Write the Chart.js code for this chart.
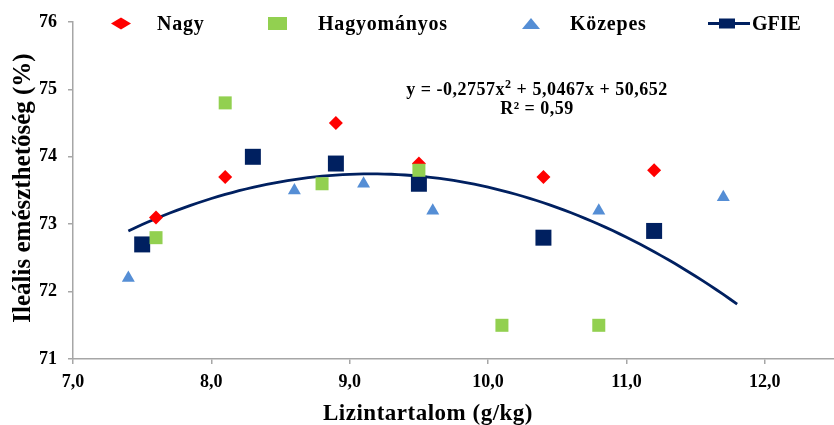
<!DOCTYPE html>
<html>
<head>
<meta charset="utf-8">
<script src="https://cdn.jsdelivr.net/npm/chart.js@4.4.1/dist/chart.umd.min.js"></script>
<style>
  html, body { margin: 0; padding: 0; background: #fff; }
  canvas { display: block; }
</style>
</head>
<body>
<canvas id="chart" width="834" height="425"></canvas>
<script>
// Series names, in legend order
const seriesNames = ['Nagy', 'Hagyományos', 'Közepes', 'GFIE'];

// Lysine content (g/kg) and ileal digestibility (%) per group
const nagyX  = [7.6, 8.1, 8.9, 9.5, 10.4, 11.2];
const nagyY  = [73.1, 73.7, 74.5, 73.9, 73.7, 73.8];
const hagyX  = [7.6, 8.1, 8.8, 9.5, 10.1, 10.8];
const hagyY  = [72.8, 74.8, 73.6, 73.8, 71.5, 71.5];
const kozX   = [7.4, 8.6, 9.1, 9.6, 10.8, 11.7];
const kozY   = [72.2, 73.5, 73.6, 73.2, 73.2, 73.4];
const gfieX  = [7.5, 8.3, 8.9, 9.5, 10.4, 11.2];
const gfieY  = [72.7, 74.0, 73.9, 73.6, 72.8, 72.9];

// Polynomial trend line: y = a*x^2 + b*x + c, and the x span it covers
const trendCoef = [-0.2757, 5.0467, 50.652];
const trendSpan = [7.4, 11.8];
const rSquared = 0.59;

// Axis ticks
const xTicks = [7, 8, 9, 10, 11, 12];
const yTicks = [71, 72, 73, 74, 75, 76];

const SERIF = '"Liberation Serif", "Times New Roman", serif';
const COLORS = { nagy: '#ff0000', hagy: '#92d050', koz: '#558ed5', gfie: '#002060' };

const toPoints = (xs, ys) => xs.map((x, i) => ({ x: x, y: ys[i] }));
const comma = v => String(v).replace('.', ',');

// Trend curve sampled along its span from the stated coefficients
const trendPoints = [];
for (let k = 0; k <= 88; k++) {
  const x = trendSpan[0] + (trendSpan[1] - trendSpan[0]) * k / 88;
  trendPoints.push({ x: x, y: trendCoef[0] * x * x + trendCoef[1] * x + trendCoef[2] });
}

// Legend, regression equation and axis titles
const annotations = {
  id: 'annotations',
  afterDraw(chart) {
    const ctx = chart.ctx;
    ctx.save();
    const cy = 23.5;

    // legend markers
    ctx.fillStyle = COLORS.nagy;
    ctx.beginPath();
    ctx.moveTo(111, cy); ctx.lineTo(121, cy - 6); ctx.lineTo(131, cy); ctx.lineTo(121, cy + 6);
    ctx.closePath(); ctx.fill();

    ctx.fillStyle = COLORS.hagy;
    ctx.fillRect(268, cy - 6.5, 19, 13);

    ctx.fillStyle = COLORS.koz;
    ctx.beginPath();
    ctx.moveTo(522, cy + 5.5); ctx.lineTo(531, cy - 5.5); ctx.lineTo(540, cy + 5.5);
    ctx.closePath(); ctx.fill();

    ctx.strokeStyle = COLORS.gfie;
    ctx.lineWidth = 3;
    ctx.beginPath(); ctx.moveTo(708, cy); ctx.lineTo(750, cy); ctx.stroke();
    ctx.fillStyle = COLORS.gfie;
    ctx.fillRect(719, cy - 5, 16, 10);

    // legend labels
    ctx.fillStyle = '#000';
    ctx.font = 'bold 20px ' + SERIF;
    ctx.textAlign = 'left';
    ctx.textBaseline = 'alphabetic';
    ctx.letterSpacing = '0.8px';
    ctx.fillText(seriesNames[0], 157, 30);
    ctx.fillText(seriesNames[1], 318, 30);
    ctx.fillText(seriesNames[2], 570, 30);
    ctx.letterSpacing = '0px';
    ctx.fillText(seriesNames[3], 752, 30);

    // regression equation
    ctx.letterSpacing = '0.5px';
    const partA = 'y = ' + comma(trendCoef[0]) + 'x';
    const sup = '2';
    const partB = ' + ' + comma(trendCoef[1]) + 'x + ' + comma(trendCoef[2]);
    ctx.font = 'bold 18px ' + SERIF;
    const wA = ctx.measureText(partA).width;
    const wB = ctx.measureText(partB).width;
    ctx.font = 'bold 12px ' + SERIF;
    const wS = ctx.measureText(sup).width;
    const x0 = 537 - (wA + wS + wB) / 2;
    ctx.font = 'bold 18px ' + SERIF;
    ctx.fillText(partA, x0, 95);
    ctx.font = 'bold 12px ' + SERIF;
    ctx.fillText(sup, x0 + wA, 88);
    ctx.font = 'bold 18px ' + SERIF;
    ctx.fillText(partB, x0 + wA + wS, 95);
    ctx.textAlign = 'center';
    ctx.fillText('R\u00b2 = ' + comma(rSquared), 537, 114);

    // axis titles
    ctx.font = 'bold 23px ' + SERIF;
    ctx.fillText('Lizintartalom (g/kg)', 428, 420);
    ctx.letterSpacing = '0px';
    ctx.translate(30, 188);
    ctx.rotate(-Math.PI / 2);
    ctx.font = 'bold 25px ' + SERIF;
    ctx.fillText('Ileális emészthetőség (%)', 0, 0);
    ctx.restore();
  }
};

const axisGray = '#a6a6a6';

new Chart(document.getElementById('chart'), {
  type: 'scatter',
  data: {
    datasets: [
      { label: seriesNames[2], data: toPoints(kozX, kozY), order: 0,
        pointStyle: 'triangle', pointRadius: 7.5, backgroundColor: COLORS.koz, borderWidth: 0 },
      { label: seriesNames[1], data: toPoints(hagyX, hagyY), order: 1,
        pointStyle: 'rect', pointRadius: 9.2, backgroundColor: COLORS.hagy, borderWidth: 0 },
      { label: seriesNames[0], data: toPoints(nagyX, nagyY), order: 2,
        pointStyle: 'rectRot', pointRadius: 7, backgroundColor: COLORS.nagy, borderWidth: 0 },
      { label: 'trend', data: trendPoints, order: 3, showLine: true, pointRadius: 0,
        borderColor: COLORS.gfie, borderWidth: 2.8, tension: 0, fill: false },
      { label: seriesNames[3], data: toPoints(gfieX, gfieY), order: 4,
        pointStyle: 'rect', pointRadius: 11.3, backgroundColor: COLORS.gfie, borderWidth: 0 }
    ]
  },
  options: {
    responsive: false,
    animation: false,
    events: [],
    layout: { autoPadding: false, padding: { top: 22, right: 0, left: 0, bottom: 0 } },
    plugins: { legend: { display: false }, tooltip: { enabled: false }, title: { display: false } },
    scales: {
      x: {
        type: 'linear', position: 'bottom', min: 7, max: 12.5,
        afterBuildTicks: axis => { axis.ticks = xTicks.map(v => ({ value: v })); },
        afterFit: scale => { scale.height = 66; scale.paddingLeft = 0; scale.paddingRight = 0; },
        ticks: {
          callback: v => v.toFixed(1).replace('.', ','),
          font: { family: SERIF, size: 18, weight: 'bold' }, color: '#000',
          padding: 8, maxRotation: 0, autoSkip: false
        },
        grid: { drawOnChartArea: false, drawTicks: true, tickLength: 5, color: axisGray, lineWidth: 1.5 },
        border: { display: true, color: axisGray, width: 1.5 }
      },
      y: {
        type: 'linear', min: 71, max: 76,
        afterBuildTicks: axis => { axis.ticks = yTicks.map(v => ({ value: v })); },
        afterFit: scale => { scale.width = 73; },
        ticks: {
          callback: v => String(v),
          font: { family: SERIF, size: 18, weight: 'bold' }, color: '#000',
          padding: 11
        },
        grid: { drawOnChartArea: false, drawTicks: true, tickLength: 5, color: axisGray, lineWidth: 1.5 },
        border: { display: true, color: axisGray, width: 1.5 }
      }
    }
  },
  plugins: [annotations]
});
</script>
</body>
</html>
